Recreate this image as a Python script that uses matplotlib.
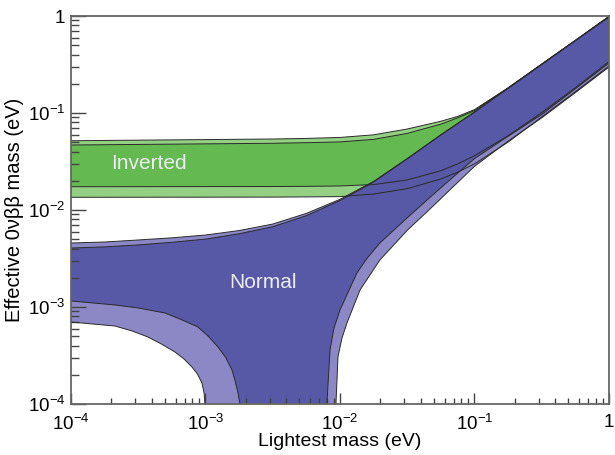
import numpy as np
import matplotlib.pyplot as plt
from matplotlib.ticker import FixedLocator, LogLocator, NullFormatter

plt.rcParams['font.family'] = ['Liberation Sans', 'DejaVu Sans']
plt.rcParams['mathtext.fontset'] = 'custom'
plt.rcParams['mathtext.rm'] = 'Liberation Sans'
plt.rcParams['mathtext.it'] = 'Liberation Sans:italic'

# all values below are log10 of the mass in eV

# --- normal hierarchy band ---
nh_up_x = [-4, -3.75, -3.5, -3.25, -3, -2.75, -2.5, -2.25, -2, -1.75, -1.5, -1.25, -1, -0.75, -0.5, -0.25, 0]
nh_up_outer_y = [-2.340, -2.330, -2.309, -2.287, -2.258, -2.212, -2.145, -2.035, -1.890, -1.705,
                 -1.470, -1.225, -0.990, -0.745, -0.497, -0.252, -0.010]
nh_up_inner_y = [-2.392, -2.380, -2.360, -2.333, -2.300, -2.245, -2.172, -2.058, -1.903, -1.712,
                 -1.472, -1.226, -0.991, -0.746, -0.498, -0.253, -0.011]

nh_lo_dark_left_x = [-4, -3.673, -3.5, -3.301, -3.18, -3.056, -2.98, -2.907, -2.85, -2.803, -2.78, -2.758, -2.743, -2.735]
nh_lo_dark_left_y = [-2.938, -2.979, -3.010, -3.062, -3.130, -3.206, -3.300, -3.412, -3.520, -3.649, -3.760, -3.887, -4.0, -4.3]
nh_lo_light_left_x = [-4, -3.673, -3.55, -3.428, -3.33, -3.227, -3.16, -3.100, -3.06, -3.026, -3.01, -3.004, -2.998]
nh_lo_light_left_y = [-3.155, -3.196, -3.245, -3.309, -3.380, -3.464, -3.535, -3.619, -3.690, -3.784, -3.890, -4.0, -4.3]

nh_lo_dark_right_x = [-2.10, -2.097, -2.085, -2.074, -2.045, -2.0, -1.874, -1.8, -1.703, -1.5, -1.353,
                      -1.2, -1.0, -0.75, -0.5, -0.25, 0]
nh_lo_dark_right_y = [-4.3, -4.0, -3.70, -3.443, -3.220, -3.031, -2.649, -2.500, -2.340, -2.080, -1.897,
                      -1.710, -1.470, -1.240, -1.015, -0.750, -0.485]
nh_lo_light_right_x = [-2.033, -2.030, -2.022, -2.015, -1.985, -1.948, -1.851, -1.703, -1.5, -1.331,
                       -1.0, -0.75, -0.5, -0.25, 0]
nh_lo_light_right_y = [-4.3, -4.0, -3.75, -3.515, -3.320, -3.165, -2.825, -2.515, -2.210, -1.990,
                       -1.550, -1.290, -1.050, -0.790, -0.526]

# --- inverted hierarchy band ---
ih_x = [-4, -2.5, -2.25, -2.0, -1.75, -1.5, -1.25, -1.125, -1.0, -0.75, -0.5, -0.25, 0]
ih_up_outer_y = [-1.286, -1.268, -1.262, -1.252, -1.225, -1.165, -1.085, -1.035, -0.965, -0.740, -0.496, -0.251, -0.002]
ih_up_inner_y = [-1.330, -1.312, -1.306, -1.298, -1.272, -1.210, -1.115, -1.050, -0.975, -0.742, -0.497, -0.252, -0.005]
ih_lo_inner_y = [-1.760, -1.758, -1.756, -1.752, -1.738, -1.690, -1.595, -1.525, -1.440, -1.235, -0.995, -0.740, -0.470]
ih_lo_outer_y = [-1.869, -1.867, -1.865, -1.862, -1.835, -1.780, -1.680, -1.610, -1.525, -1.300, -1.040, -0.780, -0.515]

tick_pos = [1e-4, 1e-3, 1e-2, 1e-1, 1]
tick_labels = [r'$10^{-4}$', r'$10^{-3}$', r'$10^{-2}$', r'$10^{-1}$', '1']

blue_dark = '#5759a7'
blue_light = '#8c88c6'
green_dark = '#64ba50'
green_light = '#93d083'
edge = '#2a2a2a'


def ev(v):
    return 10.0 ** np.asarray(v, dtype=float)


fig = plt.figure(figsize=(6.15, 4.55), dpi=100)
ax = fig.add_axes([0.1154, 0.1121, 0.8748, 0.8527])
ax.set_xscale('log')
ax.set_yscale('log')

# inverted band: light outer, dark inner
ax.fill(np.r_[ev(ih_x), ev(ih_x)[::-1]], np.r_[ev(ih_up_outer_y), ev(ih_lo_outer_y)[::-1]],
        color=green_light, lw=0)
ax.fill(np.r_[ev(ih_x), ev(ih_x)[::-1]], np.r_[ev(ih_up_inner_y), ev(ih_lo_inner_y)[::-1]],
        color=green_dark, lw=0)

# normal band: light outer, dark inner
ax.fill(np.r_[ev(nh_up_x), ev(nh_lo_light_right_x)[::-1], ev(nh_lo_light_left_x)[::-1]],
        np.r_[ev(nh_up_outer_y), ev(nh_lo_light_right_y)[::-1], ev(nh_lo_light_left_y)[::-1]],
        color=blue_light, lw=0)
ax.fill(np.r_[ev(nh_up_x), ev(nh_lo_dark_right_x)[::-1], ev(nh_lo_dark_left_x)[::-1]],
        np.r_[ev(nh_up_inner_y), ev(nh_lo_dark_right_y)[::-1], ev(nh_lo_dark_left_y)[::-1]],
        color=blue_dark, lw=0)

# outlines
curves = [
    (ih_x, ih_up_outer_y), (ih_x, ih_up_inner_y), (ih_x, ih_lo_inner_y), (ih_x, ih_lo_outer_y),
    (nh_up_x, nh_up_outer_y), (nh_up_x, nh_up_inner_y),
    (nh_lo_dark_left_x, nh_lo_dark_left_y), (nh_lo_light_left_x, nh_lo_light_left_y),
    (nh_lo_dark_right_x, nh_lo_dark_right_y), (nh_lo_light_right_x, nh_lo_light_right_y),
]
for cx, cy in curves:
    ax.plot(ev(cx), ev(cy), color=edge, lw=0.7)

ax.text(3.8e-4, 0.0305, 'Inverted', color='#ececf2', fontsize=15, ha='center', va='center')
ax.text(2.68e-3, 1.81e-3, 'Normal', color='#ececf2', fontsize=15, ha='center', va='center')

ax.set_xlim(1e-4, 1)
ax.set_ylim(1e-4, 1)

ax.xaxis.set_major_locator(FixedLocator(tick_pos))
ax.yaxis.set_major_locator(FixedLocator(tick_pos))
ax.set_xticklabels(tick_labels)
ax.set_yticklabels(tick_labels)
for axis in (ax.xaxis, ax.yaxis):
    axis.set_minor_locator(LogLocator(base=10, subs=np.arange(2, 10)))
    axis.set_minor_formatter(NullFormatter())

ax.tick_params(axis='x', which='major', direction='in', length=8, width=1, color='#444444',
               labelsize=13.5, pad=7, top=False)
ax.tick_params(axis='x', which='minor', direction='in', length=4.5, width=1, color='#444444', top=False)
ax.tick_params(axis='y', which='major', direction='in', length=11, width=1, color='#444444',
               labelsize=13.5, pad=4, right=False)
ax.tick_params(axis='y', which='minor', direction='in', length=6, width=1, color='#444444', right=False)

for sp in ax.spines.values():
    sp.set_color('#666666')
    sp.set_linewidth(1.3)

ax.set_xlabel('Lightest mass (eV)', fontsize=14)
ax.xaxis.set_label_coords(0.5, -0.074)
ax.set_ylabel('Effective 0νββ mass (eV)', fontsize=14.5)
ax.yaxis.set_label_coords(-0.087, 0.5)

fig.savefig('out.png', dpi=100)
